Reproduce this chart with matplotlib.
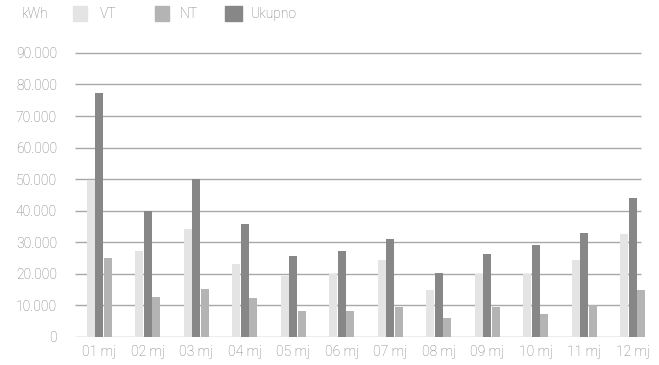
import matplotlib
matplotlib.use("Agg")
import matplotlib.pyplot as plt
from matplotlib.patches import Rectangle
import numpy as np

categories = ["01 mj", "02 mj", "03 mj", "04 mj", "05 mj", "06 mj",
              "07 mj", "08 mj", "09 mj", "10 mj", "11 mj", "12 mj"]
vt = [49800, 27400, 34300, 23000, 19300, 20100, 24300, 14800, 20100, 19900, 24300, 32600]
nt = [24900, 12600, 15300, 12200, 8200, 8200, 9400, 6000, 9400, 7300, 10100, 14800]
ukupno = [77400, 39900, 50000, 35900, 25600, 27400, 31200, 20300, 26300, 29000, 33100, 44100]
yticks = [0, 10000, 20000, 30000, 40000, 50000, 60000, 70000, 80000, 90000]
ytick_labels = ["0", "10.000", "20.000", "30.000", "40.000", "50.000",
                "60.000", "70.000", "80.000", "90.000"]
unit_label = "kWh"
series_names = ["VT", "NT", "Ukupno"]

c_vt, c_nt, c_uk = "#e3e4e3", "#b4b4b4", "#878787"
txt = "#777777"
plt.rcParams['font.family'] = ['Roboto', 'DejaVu Sans']
plt.rcParams['font.weight'] = 'light'

W, H = 659, 365
fig = plt.figure(figsize=(W / 100, H / 100), dpi=100)
x0, x1 = 75, 657
ytop_px, y0_px = 46.6, 337
ax = fig.add_axes([x0 / W, (H - y0_px) / H, (x1 - x0) / W, (y0_px - ytop_px) / H])

x = np.arange(len(categories))
bw = 0.17
off = 0.175
ax.bar(x - off, vt, bw, color=c_vt, zorder=2)
ax.bar(x, ukupno, bw, color=c_uk, zorder=2)
ax.bar(x + off, nt, bw, color=c_nt, zorder=2)

for i, t in enumerate(yticks):
    xe = 11.23 if t == 0 else 11.17
    ax.hlines(t, -0.5, xe, color="#a8a8a8", lw=1.0, zorder=1)

ax.set_xlim(-0.5, 11.5)
ax.set_ylim(0, 92000)
ax.set_yticks(yticks)
ax.set_yticklabels(ytick_labels)
ax.set_xticks(x)
ax.set_xticklabels(categories)
ax.tick_params(axis='y', length=0, pad=13, labelsize=10, labelcolor=txt)
ax.tick_params(axis='x', length=0, pad=6, labelsize=10, labelcolor=txt)
for s in ax.spines.values():
    s.set_visible(False)

# legend
def fig_rect(px, py, w, h, color):
    fig.patches.append(Rectangle((px / W, 1 - (py + h) / H), w / W, h / H,
                                 transform=fig.transFigure, color=color))

fig.text(22 / W, 1 - 14 / H, unit_label, color=txt, fontsize=10, va='center')
fig_rect(73, 6, 14, 15, c_vt)
fig.text(100 / W, 1 - 14 / H, series_names[0], color=txt, fontsize=10, va='center')
fig_rect(155, 6, 14, 15, c_nt)
fig.text(180 / W, 1 - 14 / H, series_names[1], color=txt, fontsize=10, va='center')
fig_rect(225, 6, 17, 15, c_uk)
fig.text(251 / W, 1 - 14 / H, series_names[2], color=txt, fontsize=10, va='center')

fig.savefig("out.png", dpi=100)
